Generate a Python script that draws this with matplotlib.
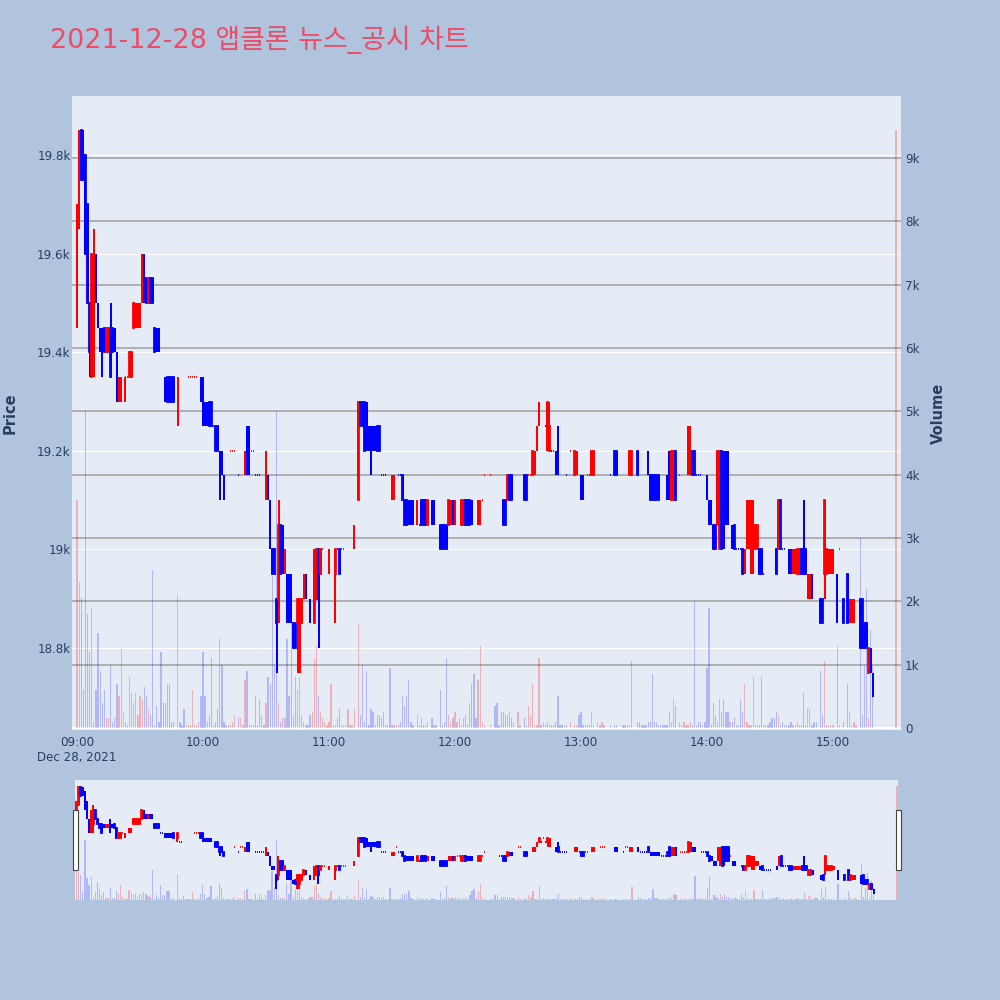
import matplotlib
matplotlib.use('Agg')
import matplotlib.pyplot as plt
from matplotlib.patches import Rectangle

plt.rcParams['font.family'] = ['DejaVu Sans', 'Noto Sans CJK KR']

# ---------------- data (minutes after 09:00) ----------------
minutes = [
    0, 1, 2, 3, 4, 5, 6, 7, 8, 9,
    10, 11, 12, 13, 14, 15, 16, 17, 18, 19,
    20, 21, 22, 23, 24, 25, 26, 27, 28, 29,
    30, 31, 32, 33, 34, 35, 36, 37, 38, 39,
    40, 41, 42, 43, 44, 45, 46, 48, 49, 50, 51,
    52, 53, 54, 55, 56, 57, 58, 59, 60, 61,
    62, 63, 64, 65, 66, 67, 68, 69, 70, 71,
    72, 73, 74, 75, 77, 78, 79, 80, 81, 82, 83, 84,
    85, 86, 87, 88, 89, 90, 91, 92, 93, 94,
    95, 96, 97, 98, 99, 100, 101, 102, 103, 104,
    105, 106, 107, 108, 109, 110, 111, 112, 113, 114,
    115, 116, 117, 118, 119, 120, 121, 122, 123, 124,
    125, 126, 127, 128, 129, 130, 131, 132, 134, 135, 136,
    137, 138, 139, 140, 141, 142, 143, 144, 145, 146,
    147, 148, 149, 150, 151, 152, 153, 154, 155, 156,
    157, 158, 159, 160, 162, 163, 164, 165, 166, 167,
    169, 170, 171, 173, 174, 175, 176, 177, 178,
    179, 180, 181, 182, 183, 184, 185, 186, 187, 188,
    189, 190, 191, 192, 193, 194, 197, 199, 200, 201, 202,
    203, 204, 205, 206, 207, 208, 210, 211, 213, 214,
    215, 216, 217, 218, 219, 220, 221, 222, 223, 224,
    225, 226, 227, 228, 229, 230, 231, 232, 233, 235,
    237, 238, 239, 240, 241, 242, 243, 244, 245, 246,
    248, 249, 250, 251, 254, 256, 257, 260, 261, 262, 263, 264,
    267, 268, 269, 270, 271, 272, 273, 274, 275, 276,
    277, 278, 279, 280, 281, 282, 283, 284, 285, 287,
    288, 289, 290, 291, 292, 293, 294, 295, 296, 297,
    298, 299, 300, 301, 302, 303, 304, 305, 306, 307,
    308, 309, 310, 311, 312, 313, 314, 315, 316, 317,
    318, 319, 320, 321, 322, 323, 324, 325, 326, 327,
    328, 329, 330, 331, 332, 333, 334, 335, 336, 337,
    338, 339, 340, 341, 342, 343, 344, 345, 346, 347,
    348, 349, 350, 351, 352, 354, 355, 356, 357, 358, 359,
    360, 362, 363, 365, 367, 368, 369, 370, 371,
    373, 374, 375, 376, 377, 378, 379, 390,
]

opens = [
    19450, 19650, 19850, 19800, 19800, 19700, 19500, 19350, 19450, 19600,
    19500, 19450, 19450, 19450, 19400, 19400, 19450, 19450, 19450, 19400,
    19300, 19300, 19350, 19350, 19350, 19350, 19350, 19450, 19450, 19450,
    19450, 19500, 19600, 19550, 19500, 19550, 19550, 19450, 19450, 19450,
    19350, 19350, 19350, 19350, 19350, 19350, 19350, 19300, 19250, 19250, 19250,
    19350, 19350, 19350, 19350, 19350, 19350, 19350, 19350, 19350, 19300,
    19300, 19300, 19300, 19250, 19250, 19250, 19200, 19200, 19150, 19150,
    19200, 19200, 19200, 19200, 19150, 19200, 19200, 19150, 19200, 19200, 19200, 19200,
    19150, 19150, 19150, 19150, 19150, 19100, 19150, 19100, 19000, 19000,
    18900, 18900, 19050, 19050, 18950, 18950, 18950, 18950, 18850, 18850,
    18850, 18800, 18850, 18900, 18950, 18900, 18900, 18900, 18850, 18900,
    19000, 18950, 19000, 19000, 19000, 18950, 19000, 19000, 18950, 19000,
    19000, 19000, 19000, 19000, 19000, 19000, 19000, 19000, 19100, 19300, 19300,
    19300, 19300, 19250, 19250, 19250, 19250, 19250, 19250, 19150, 19150,
    19150, 19150, 19150, 19100, 19100, 19200, 19150, 19150, 19150, 19100,
    19100, 19100, 19100, 19100, 19050, 19050, 19100, 19100, 19100, 19050,
    19100, 19100, 19100, 19050, 19050, 19050, 19050, 19050, 19050,
    19100, 19050, 19100, 19100, 19050, 19050, 19100, 19100, 19100, 19100,
    19050, 19050, 19050, 19050, 19100, 19150, 19150, 19100, 19100, 19100, 19100,
    19100, 19100, 19100, 19150, 19150, 19150, 19200, 19200, 19150, 19150,
    19150, 19150, 19150, 19150, 19200, 19250, 19250, 19300, 19250, 19250,
    19200, 19200, 19200, 19200, 19200, 19150, 19150, 19150, 19150, 19200,
    19150, 19150, 19150, 19150, 19150, 19150, 19150, 19150, 19150, 19150,
    19200, 19200, 19200, 19200, 19150, 19200, 19200, 19150, 19200, 19200, 19150, 19150,
    19200, 19150, 19150, 19150, 19150, 19200, 19150, 19150, 19150, 19150,
    19150, 19100, 19100, 19100, 19150, 19200, 19100, 19100, 19200, 19150,
    19150, 19150, 19150, 19150, 19150, 19200, 19200, 19150, 19150, 19150,
    19150, 19150, 19150, 19100, 19100, 19050, 19050, 19050, 19000, 19200,
    19200, 19200, 19200, 19100, 19050, 19050, 19000, 19000, 19000, 19000,
    18950, 19000, 19000, 18950, 18950, 19000, 19000, 19000, 19000, 18950,
    18950, 18950, 18950, 18950, 18950, 19000, 19000, 19100, 19000, 19000,
    19000, 19000, 19000, 18950, 18950, 18950, 18950, 19000, 19000, 19000,
    18900, 18900, 18950, 18900, 18900, 18900, 18900, 18950, 18950, 18950, 18950,
    18950, 18950, 19000, 18900, 18950, 18850, 18850, 18850, 18950,
    18900, 18900, 18850, 18850, 18750, 18800, 18750, 18850,
]

highs = [
    19700, 19850, 19850, 19850, 19800, 19700, 19500, 19600, 19650, 19600,
    19500, 19450, 19450, 19450, 19450, 19450, 19500, 19450, 19450, 19400,
    19350, 19350, 19350, 19350, 19350, 19400, 19400, 19500, 19500, 19500,
    19500, 19600, 19600, 19550, 19550, 19550, 19550, 19450, 19450, 19450,
    19350, 19350, 19350, 19350, 19350, 19350, 19350, 19350, 19250, 19250, 19250,
    19350, 19350, 19350, 19350, 19350, 19350, 19350, 19350, 19350, 19300,
    19300, 19300, 19300, 19250, 19250, 19250, 19200, 19200, 19150, 19150,
    19200, 19200, 19200, 19200, 19150, 19200, 19200, 19200, 19250, 19250, 19200, 19200,
    19150, 19150, 19150, 19150, 19150, 19200, 19150, 19100, 19000, 19000,
    18900, 19100, 19050, 19050, 19000, 18950, 18950, 18950, 18850, 18850,
    18900, 18900, 18900, 18950, 18950, 18900, 18900, 18900, 19000, 19000,
    19000, 19000, 19000, 19000, 19000, 19000, 19000, 19000, 19000, 19000,
    19000, 19000, 19000, 19000, 19000, 19000, 19000, 19050, 19300, 19300, 19300,
    19300, 19300, 19250, 19250, 19250, 19250, 19250, 19250, 19150, 19150,
    19150, 19150, 19150, 19150, 19150, 19200, 19150, 19150, 19150, 19100,
    19100, 19100, 19100, 19100, 19100, 19050, 19100, 19100, 19100, 19100,
    19100, 19100, 19100, 19050, 19050, 19050, 19050, 19100, 19100,
    19100, 19100, 19100, 19100, 19100, 19100, 19100, 19100, 19100, 19100,
    19050, 19050, 19100, 19100, 19100, 19150, 19150, 19100, 19100, 19100, 19100,
    19100, 19100, 19150, 19150, 19150, 19150, 19200, 19200, 19150, 19150,
    19150, 19150, 19200, 19200, 19250, 19300, 19250, 19300, 19250, 19300,
    19300, 19200, 19200, 19200, 19250, 19150, 19150, 19150, 19150, 19200,
    19200, 19200, 19150, 19150, 19150, 19150, 19150, 19150, 19200, 19200,
    19200, 19200, 19200, 19200, 19150, 19200, 19200, 19150, 19200, 19200, 19200, 19200,
    19200, 19150, 19150, 19150, 19150, 19200, 19150, 19150, 19150, 19150,
    19150, 19100, 19100, 19100, 19150, 19200, 19200, 19200, 19200, 19150,
    19150, 19150, 19150, 19250, 19250, 19200, 19200, 19150, 19150, 19150,
    19150, 19150, 19150, 19100, 19100, 19050, 19050, 19200, 19200, 19200,
    19200, 19200, 19200, 19100, 19050, 19050, 19000, 19000, 19000, 19000,
    19000, 19100, 19100, 19100, 19100, 19050, 19050, 19000, 19000, 18950,
    18950, 18950, 18950, 18950, 18950, 19000, 19100, 19100, 19000, 19000,
    19000, 19000, 19000, 19000, 19000, 19000, 19000, 19000, 19100, 19000,
    18950, 18950, 18950, 18900, 18900, 18900, 18900, 19100, 19000, 19000, 19000,
    19000, 18950, 19000, 18900, 18950, 18900, 18900, 18900, 18950,
    18900, 18900, 18850, 18850, 18800, 18800, 18750, 18850,
]

lows = [
    19450, 19650, 19750, 19750, 19600, 19500, 19350, 19350, 19350, 19500,
    19450, 19400, 19350, 19400, 19400, 19400, 19350, 19400, 19400, 19300,
    19300, 19300, 19350, 19300, 19350, 19350, 19350, 19450, 19450, 19450,
    19450, 19500, 19500, 19500, 19500, 19500, 19500, 19400, 19400, 19400,
    19350, 19350, 19300, 19300, 19300, 19300, 19300, 19250, 19250, 19250, 19250,
    19350, 19350, 19350, 19350, 19350, 19350, 19350, 19300, 19250, 19250,
    19250, 19250, 19250, 19250, 19200, 19200, 19100, 19150, 19100, 19150,
    19200, 19200, 19200, 19200, 19150, 19200, 19200, 19150, 19150, 19150, 19200, 19200,
    19150, 19150, 19150, 19150, 19150, 19100, 19100, 19000, 18950, 18950,
    18750, 18850, 18950, 18950, 18950, 18850, 18850, 18850, 18800, 18800,
    18750, 18750, 18850, 18900, 18900, 18900, 18850, 18900, 18850, 18900,
    18800, 18950, 19000, 19000, 19000, 18950, 19000, 19000, 18850, 19000,
    18950, 19000, 19000, 19000, 19000, 19000, 19000, 19000, 19100, 19250, 19250,
    19200, 19200, 19200, 19150, 19200, 19200, 19200, 19200, 19150, 19150,
    19150, 19150, 19150, 19100, 19100, 19200, 19150, 19150, 19100, 19050,
    19050, 19050, 19050, 19050, 19050, 19050, 19050, 19050, 19050, 19050,
    19050, 19050, 19100, 19000, 19000, 19000, 19000, 19050, 19050,
    19050, 19050, 19100, 19100, 19050, 19050, 19050, 19050, 19050, 19050,
    19050, 19050, 19050, 19050, 19100, 19150, 19150, 19100, 19100, 19100, 19100,
    19050, 19050, 19100, 19100, 19100, 19150, 19200, 19200, 19100, 19100,
    19150, 19150, 19150, 19150, 19200, 19250, 19250, 19300, 19250, 19200,
    19200, 19200, 19200, 19150, 19150, 19150, 19150, 19150, 19150, 19200,
    19150, 19150, 19150, 19100, 19100, 19150, 19150, 19150, 19150, 19150,
    19200, 19200, 19200, 19200, 19150, 19150, 19150, 19150, 19200, 19200, 19150, 19150,
    19150, 19150, 19150, 19150, 19150, 19150, 19100, 19100, 19100, 19100,
    19100, 19100, 19100, 19100, 19100, 19100, 19100, 19100, 19100, 19150,
    19150, 19150, 19150, 19150, 19150, 19150, 19150, 19150, 19150, 19150,
    19150, 19150, 19100, 19050, 19050, 19000, 19000, 19050, 19000, 19000,
    19000, 19050, 19050, 19100, 19000, 19000, 19000, 19000, 19000, 18950,
    18950, 19000, 19000, 18950, 18950, 19000, 19000, 18950, 18950, 18950,
    18950, 18950, 18950, 18950, 18950, 18950, 19000, 19000, 19000, 19000,
    19000, 18950, 18950, 18950, 18950, 18950, 18950, 18950, 18950, 18950,
    18900, 18900, 18900, 18900, 18900, 18850, 18850, 18900, 18950, 18950, 18950,
    18950, 18850, 19000, 18850, 18850, 18850, 18850, 18850, 18950,
    18800, 18800, 18800, 18800, 18750, 18750, 18700, 18850,
]

closes = [
    19650, 19850, 19750, 19750, 19600, 19500, 19400, 19600, 19600, 19500,
    19450, 19400, 19350, 19400, 19450, 19450, 19350, 19400, 19400, 19300,
    19350, 19350, 19350, 19350, 19350, 19400, 19400, 19500, 19500, 19500,
    19500, 19600, 19500, 19500, 19550, 19500, 19500, 19400, 19400, 19400,
    19350, 19350, 19300, 19300, 19300, 19300, 19300, 19350, 19250, 19250, 19250,
    19350, 19350, 19350, 19350, 19350, 19350, 19350, 19300, 19300, 19250,
    19250, 19250, 19250, 19250, 19200, 19200, 19150, 19150, 19100, 19150,
    19200, 19200, 19200, 19200, 19150, 19200, 19200, 19200, 19150, 19150, 19200, 19200,
    19150, 19150, 19150, 19150, 19150, 19150, 19100, 19000, 18950, 18950,
    18850, 19050, 18950, 18950, 19000, 18850, 18850, 18850, 18800, 18800,
    18900, 18900, 18900, 18950, 18900, 18900, 18850, 18900, 18900, 19000,
    18900, 19000, 19000, 19000, 19000, 19000, 19000, 19000, 19000, 19000,
    18950, 19000, 19000, 19000, 19000, 19000, 19000, 19050, 19300, 19250, 19250,
    19200, 19200, 19200, 19200, 19200, 19200, 19200, 19200, 19150, 19150,
    19150, 19150, 19150, 19150, 19150, 19200, 19150, 19150, 19100, 19050,
    19050, 19050, 19050, 19050, 19100, 19050, 19050, 19050, 19050, 19100,
    19050, 19050, 19100, 19000, 19000, 19000, 19000, 19100, 19100,
    19050, 19100, 19100, 19100, 19100, 19100, 19050, 19050, 19050, 19050,
    19050, 19050, 19100, 19100, 19100, 19150, 19150, 19100, 19100, 19100, 19100,
    19050, 19050, 19150, 19100, 19100, 19150, 19200, 19200, 19100, 19100,
    19150, 19150, 19200, 19200, 19250, 19300, 19250, 19300, 19250, 19300,
    19250, 19200, 19200, 19150, 19150, 19150, 19150, 19150, 19150, 19200,
    19200, 19200, 19150, 19100, 19100, 19150, 19150, 19150, 19200, 19200,
    19200, 19200, 19200, 19200, 19150, 19150, 19150, 19150, 19200, 19200, 19200, 19200,
    19150, 19150, 19150, 19150, 19150, 19150, 19100, 19100, 19100, 19100,
    19100, 19100, 19100, 19100, 19100, 19100, 19200, 19200, 19100, 19150,
    19150, 19150, 19150, 19250, 19250, 19150, 19150, 19150, 19150, 19150,
    19150, 19150, 19100, 19050, 19050, 19000, 19000, 19200, 19200, 19000,
    19050, 19050, 19050, 19100, 19000, 19000, 19000, 19000, 19000, 18950,
    19000, 19100, 19100, 19100, 19100, 19050, 19050, 18950, 18950, 18950,
    18950, 18950, 18950, 18950, 18950, 18950, 19100, 19000, 19000, 19000,
    19000, 18950, 18950, 19000, 19000, 19000, 19000, 18950, 18950, 18950,
    18950, 18950, 18900, 18900, 18900, 18850, 18850, 19100, 19000, 19000, 19000,
    19000, 18850, 19000, 18850, 18850, 18900, 18900, 18900, 18950,
    18800, 18800, 18800, 18800, 18800, 18750, 18700, 18850,
]

volumes = [
    3600, 2300, 2050, 600, 5000, 1800, 1200, 1900, 100, 600,
    1500, 900, 400, 600, 150, 150, 1000, 100, 150, 700,
    500, 1250, 250, 100, 50, 800, 550, 400, 550, 200,
    500, 450, 650, 500, 300, 200, 2500, 50, 350, 100,
    1200, 400, 400, 700, 700, 100, 100, 2100, 100, 50, 300,
    50, 50, 50, 600, 50, 50, 100, 500, 1200, 500,
    100, 200, 1100, 50, 100, 300, 1400, 1000, 100, 50,
    50, 50, 100, 200, 150, 150, 50, 750, 900, 50, 50, 50,
    500, 50, 450, 200, 50, 400, 800, 700, 2400, 1000,
    5000, 400, 100, 150, 150, 1400, 500, 1650, 200, 800,
    600, 800, 200, 100, 50, 50, 200, 250, 1100, 1300,
    500, 250, 150, 100, 50, 100, 700, 50, 50, 150,
    300, 50, 50, 50, 300, 50, 50, 300, 1650, 200, 1000,
    100, 900, 50, 300, 250, 50, 200, 200, 150, 250,
    50, 50, 950, 50, 50, 50, 50, 100, 500, 350,
    500, 750, 100, 50, 200, 50, 150, 50, 50, 100,
    150, 50, 50, 600, 50, 100, 1100, 200, 100,
    150, 250, 100, 150, 50, 150, 200, 50, 400, 700,
    850, 150, 750, 1300, 100, 50, 50, 350, 400, 50, 250,
    250, 200, 200, 250, 150, 100, 250, 50, 150, 50,
    350, 200, 700, 50, 50, 1100, 50, 100, 50, 100,
    50, 50, 50, 100, 500, 50, 50, 50, 50, 100,
    50, 50, 200, 250, 50, 50, 50, 50, 250, 50,
    100, 50, 100, 50, 50, 50, 50, 50, 50, 50, 50, 1050,
    100, 100, 50, 50, 50, 100, 100, 850, 100, 100,
    50, 50, 50, 50, 50, 250, 100, 450, 350, 100,
    50, 100, 50, 50, 100, 50, 2000, 50, 100, 100,
    50, 100, 950, 1900, 50, 400, 200, 100, 450, 250,
    450, 250, 250, 100, 100, 150, 50, 50, 450, 250,
    700, 100, 50, 50, 800, 50, 50, 50, 800, 50,
    50, 50, 100, 150, 150, 250, 200, 50, 100, 50,
    50, 50, 100, 50, 50, 100, 50, 50, 550, 50,
    300, 300, 50, 100, 100, 900, 200, 1050, 50, 50, 50,
    50, 1300, 50, 100, 700, 250, 50, 100, 50,
    3000, 200, 1000, 2200, 150, 1550, 1000, 9450,
]

title_text = '2021-12-28 앱클론 뉴스_공시 차트'
time_tick_pos = [0, 60, 120, 180, 240, 300, 360]
time_tick_labels = ['09:00', '10:00', '11:00', '12:00', '13:00', '14:00', '15:00']
date_label = 'Dec 28, 2021'
price_ticks = [18800, 19000, 19200, 19400, 19600, 19800]
price_tick_labels = ['18.8k', '19k', '19.2k', '19.4k', '19.6k', '19.8k']
volume_ticks = [0, 1000, 2000, 3000, 4000, 5000, 6000, 7000, 8000, 9000]
volume_tick_labels = ['0', '1k', '2k', '3k', '4k', '5k', '6k', '7k', '8k', '9k']

n = len(minutes)
assert all(len(a) == n for a in (opens, highs, lows, closes, volumes)), \
    [len(a) for a in (minutes, opens, highs, lows, closes, volumes)]

# ---------------- styling ----------------
UP = '#FF0000'
DOWN = '#0000FF'
UP_V = (1.0, 0.0, 0.0, 0.25)
DOWN_V = (0.0, 0.0, 1.0, 0.22)
FIG_BG = '#B0C4DE'
PLOT_BG = '#E5ECF6'
FONT_C = '#2a3f5f'
PX = 72.0 / 100.0  # points per pixel

P_RANGE = (18633.7, 19919.7)
V_RANGE = (-31.6, 9979.0)
X_MAIN = (-2.4, 392.4)
X_SLIDER = (-0.7, 390.5)

# plotly-style direction (ties follow previous close / previous direction)
increasing = []
prev_c = None
prev_inc = True
for o, c in zip(opens, closes):
    if c != o:
        d = c > o
    elif prev_c is not None and c != prev_c:
        d = c > prev_c
    else:
        d = prev_inc
    increasing.append(d)
    prev_c = c
    prev_inc = d

cols = [UP if d else DOWN for d in increasing]
vcols = [UP_V if d else DOWN_V for d in increasing]
bottoms = [min(o, c) for o, c in zip(opens, closes)]
heights = [abs(c - o) for o, c in zip(opens, closes)]


def draw_panel(ax_v, ax_p, xlim, grid):
    ax_v.set_facecolor(PLOT_BG)
    ax_v.set_xlim(*xlim)
    ax_v.set_ylim(*V_RANGE)
    ax_p.set_ylim(*P_RANGE)
    ax_p.patch.set_visible(False)
    for a in (ax_v, ax_p):
        for s in a.spines.values():
            s.set_visible(False)
    if grid:
        for p in price_ticks:
            yv = V_RANGE[0] + (p - P_RANGE[0]) / (P_RANGE[1] - P_RANGE[0]) * (V_RANGE[1] - V_RANGE[0])
            ax_v.axhline(yv, color='white', lw=1.2 * PX, zorder=0.5)
        for v in volume_ticks[1:]:
            ax_v.axhline(v, color='#a2a2a2', lw=1.6 * PX, zorder=0.6)
        ax_v.axhline(0, color='white', lw=2 * PX, zorder=0.7)
    ax_v.bar(minutes, volumes, width=0.6, color=vcols, linewidth=0, zorder=1)
    ax_p.vlines(minutes, lows, highs, colors=cols, lw=2 * PX, zorder=2)
    ax_p.bar(minutes, heights, bottom=bottoms, width=0.25, color=cols,
             edgecolor=cols, linewidth=1.8 * PX, zorder=3)


fig = plt.figure(figsize=(10, 10), dpi=100, facecolor=FIG_BG)

# main panel
ax_v = fig.add_axes([0.072, 0.270, 0.829, 0.634])
ax_p = ax_v.twinx()
draw_panel(ax_v, ax_p, X_MAIN, True)

ax_v.yaxis.tick_right()
ax_v.set_yticks(volume_ticks, volume_tick_labels)
ax_v.tick_params(axis='y', length=0, pad=3, labelsize=8.6, labelcolor=FONT_C)
ax_p.yaxis.tick_left()
ax_p.set_yticks(price_ticks, price_tick_labels)
ax_p.tick_params(axis='y', length=0, pad=1, labelsize=8.6, labelcolor=FONT_C)
ax_v.set_xticks(time_tick_pos, time_tick_labels)
ax_v.tick_params(axis='x', length=0, pad=4.5, labelsize=8.6, labelcolor=FONT_C)
ax_p.tick_params(axis='x', length=0)

# range slider
ax_sv = fig.add_axes([0.075, 0.100, 0.823, 0.120])
ax_sp = ax_sv.twinx()
draw_panel(ax_sv, ax_sp, X_SLIDER, False)
for a in (ax_sv, ax_sp):
    a.set_xticks([])
    a.set_yticks([])

for hx in (73, 896):
    fig.patches.append(Rectangle((hx / 1000, 1 - 870 / 1000), 5 / 1000, 60 / 1000,
                                 transform=fig.transFigure, facecolor='white',
                                 edgecolor='#444444', lw=0.8, zorder=10))

# texts
fig.text(0.050, 1 - 0.040, title_text, fontsize=19.4, color='#EB4D68', ha='left', va='center')
fig.text(0.010, 1 - 0.413, 'Price', rotation=90, ha='center', va='center',
         fontsize=10.5, fontweight='bold', color=FONT_C)
fig.text(0.938, 1 - 0.413, 'Volume', rotation=90, ha='center', va='center',
         fontsize=10.5, fontweight='bold', color=FONT_C)
fig.text(0.077, 1 - 0.757, date_label, ha='center', va='center', fontsize=8.6, color=FONT_C)

fig.savefig('out.png', dpi=100, facecolor=FIG_BG)
